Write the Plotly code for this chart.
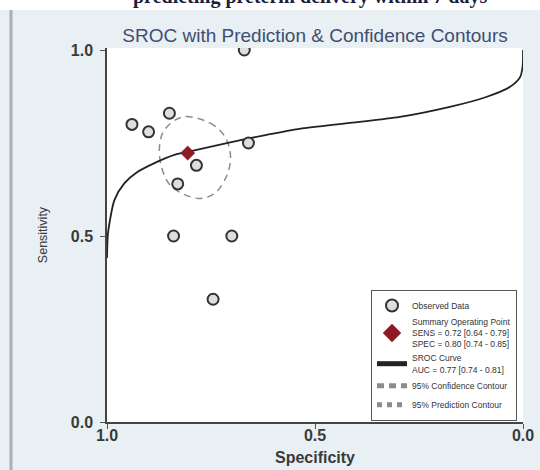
import plotly.graph_objects as go

# ---- data ----
study_spec = [0.67, 0.85, 0.94, 0.90, 0.66, 0.785, 0.83, 0.84, 0.70, 0.745]
study_sens = [1.00, 0.83, 0.80, 0.78, 0.75, 0.69, 0.64, 0.50, 0.50, 0.33]

summary_spec = [0.806]
summary_sens = [0.723]

sroc_spec = [1.0, 0.998, 0.994, 0.982, 0.958, 0.927, 0.886, 0.838, 0.806, 0.712,
             0.616, 0.537, 0.416, 0.296, 0.176, 0.09, 0.031, 0.007, 0.001, 0.0]
sroc_sens = [0.441, 0.503, 0.535, 0.597, 0.642, 0.672, 0.696, 0.718, 0.726, 0.750,
             0.772, 0.788, 0.804, 0.820, 0.847, 0.873, 0.901, 0.927, 0.955, 1.0]

conf_spec = [0.818, 0.753, 0.717, 0.703, 0.713, 0.741, 0.781, 0.845, 0.867, 0.874, 0.862, 0.818]
conf_sens = [0.820, 0.804, 0.768, 0.714, 0.660, 0.615, 0.601, 0.633, 0.678, 0.737, 0.785, 0.820]

tick_vals = [1.0, 0.5, 0.0]
tick_text = ["1.0", "0.5", "0.0"]

legend_names = [
    "Observed Data",
    "Summary Operating Point<br>SENS = 0.72 [0.64 - 0.79]<br>SPEC = 0.80 [0.74 - 0.85]",
    "SROC Curve<br>AUC = 0.77 [0.74 - 0.81]",
    "95% Confidence Contour",
    "95% Prediction Contour",
]

PANEL = "#E8F0F3"
FONT = "Liberation Sans, Arial, sans-serif"

fig = go.Figure()

fig.add_trace(go.Scatter(
    x=conf_spec, y=conf_sens, mode="lines", name=legend_names[3],
    line=dict(color="#8c8c8c", width=1.5, dash="7px,5px", shape="spline", smoothing=1.0),
    legendrank=4))

fig.add_trace(go.Scatter(
    x=[None], y=[None], mode="lines", name=legend_names[4],
    line=dict(color="#8c8c8c", width=1.2, dash="dot"),
    legendrank=5))

fig.add_trace(go.Scatter(
    x=sroc_spec, y=sroc_sens, mode="lines", name=legend_names[2],
    line=dict(color="#222222", width=1.8, shape="spline", smoothing=0.8),
    legendrank=3))

fig.add_trace(go.Scatter(
    x=study_spec, y=study_sens, mode="markers", name=legend_names[0],
    marker=dict(symbol="circle", size=11, color="#dedede",
                line=dict(color="#333333", width=2)),
    legendrank=1))

fig.add_trace(go.Scatter(
    x=summary_spec, y=summary_sens, mode="markers", name=legend_names[1],
    marker=dict(symbol="diamond", size=11, color="#8E1B24",
                line=dict(color="#8E1B24", width=0.5)),
    legendrank=2))

axis_common = dict(
    tickmode="array", tickvals=tick_vals, ticktext=tick_text,
    ticks="outside", ticklen=5, tickwidth=1.2, tickcolor="#555555",
    showgrid=False, zeroline=False, showline=True, linecolor="#444444", linewidth=1.5,
    tickfont=dict(family=FONT, size=16, color="#3a3a3a", weight="bold"),
    mirror=False, automargin=False,
)

fig.update_layout(
    width=540, height=470,
    margin=dict(l=107, r=17, t=48, b=48),
    paper_bgcolor=PANEL, plot_bgcolor="white",
    xaxis=dict(range=[1.0, 0.0], **axis_common, ticklabelstandoff=-7,
               title=dict(text="<b>Specificity</b>", standoff=9,
                          font=dict(family=FONT, size=16, color="#3a3a3a"))),
    yaxis=dict(range=[0.0, 1.0054], **axis_common, ticklabelstandoff=4,
               title=dict(text="Sensitivity", standoff=20,
                          font=dict(family=FONT, size=12.5, color="#3a3a3a"))),
    title=dict(text="SROC with Prediction & Confidence Contours",
               x=0.5, xref="paper", xanchor="center",
               y=1 - 35 / 470, yref="container", yanchor="middle",
               font=dict(family=FONT, size=19, color="#414d72")),
    legend=dict(x=(371 - 107) / 416, y=(422 - 290) / 374, xanchor="left", yanchor="top",
                bgcolor="white", bordercolor="#555555", borderwidth=1,
                font=dict(family=FONT, size=8.5, color="#333333"),
                itemsizing="constant", tracegroupgap=0, itemwidth=30),
    showlegend=True,
)

# white strip at the very top with the cut-off figure caption
fig.add_shape(type="rect", xref="paper", yref="paper",
              x0=-0.3, x1=1.1, y0=(422 - 10) / 374, y1=1.5,
              fillcolor="white", line=dict(width=0), layer="below")
# left frame bar
fig.add_shape(type="line", xref="paper", yref="paper",
              x0=(11 - 107) / 416, x1=(11 - 107) / 416,
              y0=(422 - 10) / 374, y1=-0.2,
              line=dict(color="#a7b0b5", width=3), layer="below")

fig.add_annotation(text="<b>predicting preterm delivery within 7 days</b>",
                   xref="paper", yref="paper", x=(310 - 107) / 416, y=(422 - 10) / 374,
                   xanchor="center", yanchor="bottom", showarrow=False,
                   font=dict(family="Liberation Serif, Times New Roman, serif", size=20, color="#1c1c3c"))

fig.write_html("out.html")
